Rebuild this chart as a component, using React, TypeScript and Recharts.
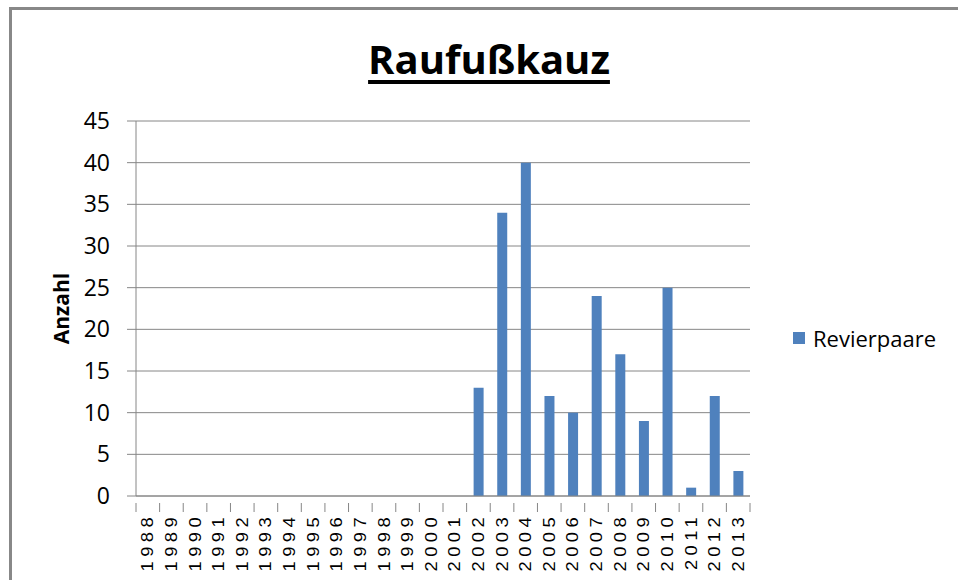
import React from "react";
import { BarChart, Bar, XAxis, YAxis, CartesianGrid, Legend } from "recharts";

const years = [
  "1988", "1989", "1990", "1991", "1992", "1993", "1994", "1995", "1996",
  "1997", "1998", "1999", "2000", "2001", "2002", "2003", "2004", "2005",
  "2006", "2007", "2008", "2009", "2010", "2011", "2012", "2013",
];
const revierpaare = [
  0, 0, 0, 0, 0, 0, 0, 0, 0, 0, 0, 0, 0, 0,
  13, 34, 40, 12, 10, 24, 17, 9, 25, 1, 12, 3,
];
const yTicks = [0, 5, 10, 15, 20, 25, 30, 35, 40, 45];

const data = years.map((y, i) => ({ year: y, v: revierpaare[i] }));

const W = 958;
const H = 580;
const margin = { top: 121, right: 208, bottom: 8, left: 56 };
const Y_WIDTH = 80;
const BAND = (W - margin.left - Y_WIDTH - margin.right) / years.length;
const GRID = "#868686";
const BLUE = "#4F81BD";

// year labels: rotated, stretched a little along the text like the original
function YearTick(props: any) {
  const { x, y, payload, index } = props;
  const last = index === years.length - 1;
  const ty = y + 9;
  return (
    <g>
      <line x1={x - BAND / 2} x2={x - BAND / 2} y1={y - 1} y2={y + 8} stroke={GRID} />
      {last && <line x1={x + BAND / 2} x2={x + BAND / 2} y1={y - 1} y2={y + 8} stroke={GRID} />}
      <text
        x={0}
        y={0}
        transform={`translate(${x}, ${ty}) rotate(-90) scale(1.15, 1)`}
        textAnchor="end"
        dominantBaseline="central"
        fontFamily="Liberation Sans, Arial, sans-serif"
        fontSize={16}
        letterSpacing={3.8}
        fill="#000"
      >
        {payload.value}
      </text>
    </g>
  );
}

function LegendBox() {
  return (
    <div style={{ display: "flex", alignItems: "center", fontFamily: "Open Sans", fontSize: 22, color: "#000" }}>
      <span style={{ width: 12, height: 12, background: BLUE, display: "inline-block", marginRight: 8 }} />
      Revierpaare
    </div>
  );
}

export default function App() {
  return (
    <div style={{ position: "absolute", left: 0, top: 0, width: W, height: H, background: "#fff", overflow: "hidden" }}>
      <div
        style={{
          position: "absolute", left: 9, top: 7, width: W, height: H,
          borderLeft: "3px solid #888", borderTop: "3px solid #888",
        }}
      />
      <div
        style={{
          position: "absolute", left: 0, top: 39, width: 978, textAlign: "center",
          fontFamily: "Open Sans", fontWeight: 700, fontSize: 40, lineHeight: "40px",
          textDecoration: "underline", textDecorationThickness: 4, textUnderlineOffset: 6,
        }}
      >
        Raufußkauz
      </div>
      <div style={{ position: "absolute", left: 0, top: 0 }}>
        <BarChart width={W} height={H} data={data} margin={margin}>
          <CartesianGrid horizontal vertical={false} stroke={GRID} />
          <XAxis
            dataKey="year"
            interval={0}
            height={76}
            axisLine={{ stroke: GRID }}
            tickLine={false}
            tick={<YearTick />}
          />
          <YAxis
            domain={[0, 45]}
            ticks={yTicks}
            width={Y_WIDTH}
            axisLine={{ stroke: GRID }}
            tickLine={{ stroke: GRID }}
            tickSize={9}
            tickMargin={17}
            tick={{ fill: "#000", fontSize: 23, fontFamily: "Open Sans" }}
            label={(p: any) => {
              const vb = p.viewBox;
              const cx = vb.x + 5;
              const cy = vb.y + vb.height / 2;
              return (
                <text
                  x={cx}
                  y={cy}
                  transform={`rotate(-90, ${cx}, ${cy})`}
                  textAnchor="middle"
                  dominantBaseline="central"
                  fontFamily="Open Sans"
                  fontWeight={700}
                  fontSize={21}
                  fill="#000"
                >
                  Anzahl
                </text>
              );
            }}
          />
          <Legend
            layout="horizontal"
            verticalAlign="middle"
            align="center"
            content={<LegendBox />}
            wrapperStyle={{ position: "absolute", left: 793, top: 323, width: 160 }}
          />
          <Bar dataKey="v" name="Revierpaare" fill={BLUE} barSize={10} isAnimationActive={false} />
        </BarChart>
      </div>
    </div>
  );
}
